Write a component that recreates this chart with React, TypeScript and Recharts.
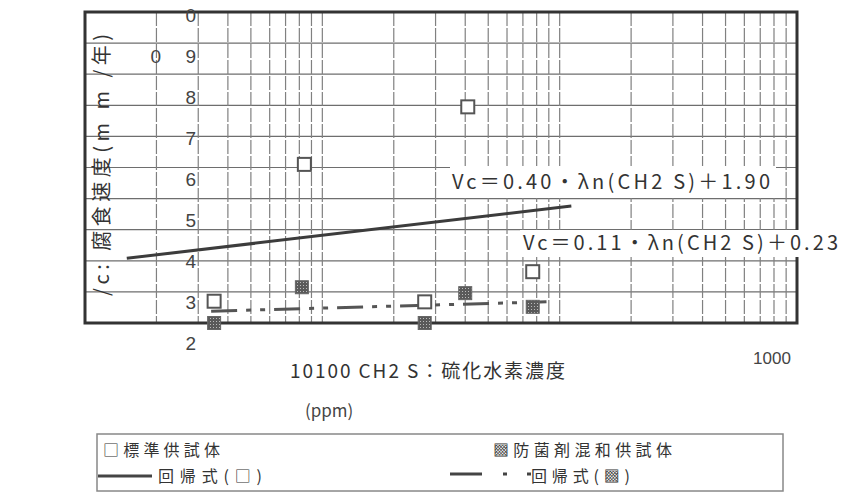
import React from "react";
import { ComposedChart, XAxis, YAxis, CartesianGrid, Line, Scatter, ReferenceArea } from "recharts";

// H2S concentration (ppm) vs corrosion rate (mm/yr)
const standardX = [3.5, 8.4, 27, 41, 77];
const standardY = [0.7, 5.1, 0.68, 6.95, 1.65];
const antibacX = [3.5, 8.2, 27, 40, 77];
const antibacY = [0.0, 1.15, 0.0, 0.96, 0.52];

// regression lines, end points as drawn
const regStdX = [1.5, 112];
const regStdY = [2.08, 3.76];
const regAbX = [3.4, 88];
const regAbY = [0.38, 0.68];

const xGridTicks = [1, 2, 3, 4, 5, 6, 7, 8, 9, 10, 20, 30, 40, 50, 60, 70, 80, 90, 100, 200, 300, 400, 500, 600, 700, 800, 900, 1000];
const xTickLabels: Record<number, string> = { 1000: "1000" };
const yGridTicks = [0, 1, 2, 3, 4, 5, 6, 7, 8, 9, 10];
const yLabelTicks = [10, 9, 8, 7, 6, 5, 4, 3, 2];
const yLabelText = ["0", "0 9", "8", "7", "6", "5", "4", "3", "2"];

const eq1 = "Vc＝0.40・λn(CH2 S)＋1.90";
const eq2 = "Vc＝0.11・λn(CH2 S)＋0.23";
const xTitle = "10100 CH2 S：硫化水素濃度";
const xUnit = "(ppm)";
const yTitle = "/c: 腐食速度(m  m  /年)";
const legendStd = "□標準供試体";
const legendAb = "▩防菌剤混和供試体";
const legendRegStd = "回帰式(□)";
const legendRegAb = "回帰式(▩)";

const pair = (xs: number[], ys: number[]) => xs.map((x, i) => ({ x, y: ys[i] }));
const standardData = pair(standardX, standardY);
const antibacData = pair(antibacX, antibacY);
const regStd = pair(regStdX, regStdY);
const regAb = pair(regAbX, regAbY);

const INK = "#3c3c3c";
const FONT = "'Noto Sans CJK JP', 'Noto Sans', sans-serif";

const OpenSquare = (props: any) => {
  const { cx, cy } = props;
  return <rect x={cx - 6.5} y={cy - 6.5} width={13} height={13} fill="#fff" stroke="#555" strokeWidth={2} />;
};

const HatchSquare = (props: any) => {
  const { cx, cy } = props;
  return <rect x={cx - 6.5} y={cy - 6.5} width={13} height={13} fill="url(#hatch)" stroke="#666" strokeWidth={1} />;
};

const Empty = () => <g />;

const XTick = (props: any) => {
  const { x, payload } = props;
  const label = xTickLabels[payload.value];
  if (!label) return <g />;
  return (
    <text x={x - 25} y={364} textAnchor="middle" fontSize={17} fill="#444" fontFamily="'Liberation Sans', sans-serif">
      {label}
    </text>
  );
};

const YTick = (props: any) => {
  const { y, payload } = props;
  const idx = yLabelTicks.indexOf(payload.value);
  const parts = (yLabelText[idx] ?? "").split(" ");
  return (
    <g>
      {parts.map((p, i) => (
        <text key={i} x={196 - (parts.length - 1 - i) * 35} y={y + 7} textAnchor="end" fontSize={19} fill="#444" fontFamily="'Liberation Sans', sans-serif">
          {p}
        </text>
      ))}
    </g>
  );
};

export default function App() {
  return (
    <div style={{ position: "absolute", left: 0, top: 0, width: 841, height: 495, background: "#fff" }}>
      <ComposedChart width={841} height={495} margin={{ top: 12, right: 44, bottom: 171, left: 83 }}>
        <defs>
          <pattern id="hatch" width="3" height="3" patternUnits="userSpaceOnUse">
            <rect width="3" height="3" fill="#5a5a5a" />
            <rect width="1" height="1" fill="#bbb" />
          </pattern>
        </defs>
        <CartesianGrid yAxisId="v" vertical={false} stroke="#6e6e6e" strokeWidth={1.2} />
        <CartesianGrid yAxisId="v" horizontal={false} stroke="#808080" strokeWidth={1.2} strokeDasharray="14 2" />
        <XAxis
          dataKey="x"
          type="number"
          scale="log"
          domain={[1, 1000]}
          ticks={xGridTicks}
          interval={0}
          allowDataOverflow
          height={1}
          axisLine={false}
          tickLine={false}
          tick={<XTick />}
        />
        <YAxis
          yAxisId="v"
          type="number"
          domain={[0, 10]}
          ticks={yGridTicks}
          interval={0}
          width={1}
          tick={<Empty />}
          axisLine={false}
          tickLine={false}
        />
        <YAxis
          yAxisId="lab"
          type="number"
          domain={[2.49, 10.07]}
          ticks={yLabelTicks}
          interval={0}
          allowDataOverflow
          width={1}
          axisLine={false}
          tickLine={false}
          tick={<YTick />}
        />
        <ReferenceArea yAxisId="v" x1={1} x2={1000} y1={0} y2={10} fill="none" stroke="#333" strokeWidth={3} ifOverflow="visible" />
        <Line data={regStd} dataKey="y" yAxisId="v" type="linear" stroke={INK} strokeWidth={3} dot={false} isAnimationActive={false} />
        <Line data={regAb} dataKey="y" yAxisId="v" type="linear" stroke="#555" strokeWidth={3} strokeDasharray="26 9 5 9 5 9" dot={false} isAnimationActive={false} />
        <Scatter data={standardData} dataKey="y" yAxisId="v" shape={<OpenSquare />} isAnimationActive={false} />
        <Scatter data={antibacData} dataKey="y" yAxisId="v" shape={<HatchSquare />} isAnimationActive={false} />
      </ComposedChart>

      <svg width={841} height={495} style={{ position: "absolute", left: 0, top: 0, pointerEvents: "none" }} fontFamily={FONT}>
        {/* axis titles */}
        <text x={100} y={165} transform="rotate(-90 100 165)" textAnchor="middle" dominantBaseline="central" fontSize={20} fill="#333" textLength={262} lengthAdjust="spacing">
          {yTitle}
        </text>
        <text x={290} y={378} fontSize={19} fill="#333" textLength={275} lengthAdjust="spacing">
          {xTitle}
        </text>
        <text x={305} y={417} fontSize={17} fill="#444">
          {xUnit}
        </text>

        {/* regression equations */}
        <rect x={450} y={166} width={326} height={32} fill="#fff" />
        <text x={452} y={189} fontSize={20} fill="#333" textLength={318} lengthAdjust="spacing">
          {eq1}
        </text>
        <rect x={520} y={230} width={321} height={27} fill="#fff" />
        <text x={523} y={250} fontSize={20} fill="#333" textLength={315} lengthAdjust="spacing">
          {eq2}
        </text>

        {/* legend */}
        <rect x={97} y={434} width={686} height={57} fill="#fff" stroke="#888" strokeWidth={1.5} />
        <text x={103} y={456} fontSize={16} fill="#333" textLength={117} lengthAdjust="spacing">
          {legendStd}
        </text>
        <line x1={98} y1={476} x2={152} y2={476} stroke="#444" strokeWidth={3} />
        <text x={158} y={482} fontSize={16} fill="#333" textLength={104} lengthAdjust="spacing">
          {legendRegStd}
        </text>
        <text x={493} y={456} fontSize={16} fill="#333" textLength={179} lengthAdjust="spacing">
          {legendAb}
        </text>
        <line x1={450} y1={474} x2={531} y2={474} stroke="#444" strokeWidth={3} strokeDasharray="32 21 4 20 4" />
        <text x={531} y={482} fontSize={16} fill="#333" textLength={99} lengthAdjust="spacing">
          {legendRegAb}
        </text>
      </svg>
    </div>
  );
}
